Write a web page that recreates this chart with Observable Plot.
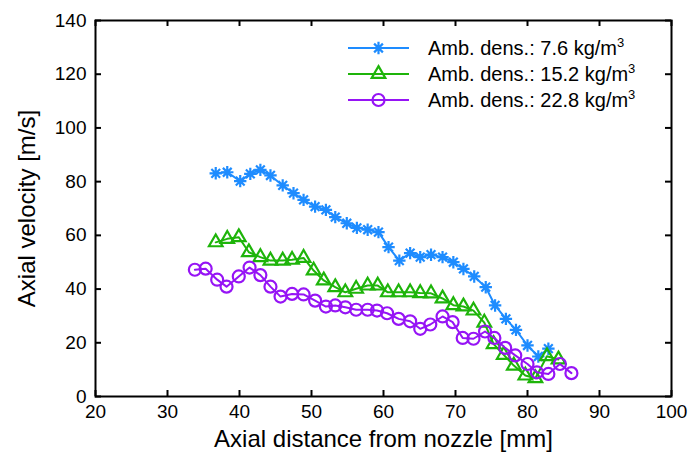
<!DOCTYPE html>
<html><head><meta charset="utf-8">
<script src="https://cdn.jsdelivr.net/npm/d3@7"></script>
<script src="https://cdn.jsdelivr.net/npm/@observablehq/plot@0.6"></script>
<style>body{margin:0;background:#fff} #chart{width:692px;height:461px}</style>
</head><body><div id="chart"></div>
<script>
const seriesNames = ["Amb. dens.: 7.6 kg/m", "Amb. dens.: 15.2 kg/m", "Amb. dens.: 22.8 kg/m"];
const seriesColors = ["#1e8cff", "#1eb40a", "#9614f5"];
const xTicks = [20, 30, 40, 50, 60, 70, 80, 90, 100];
const yTicks = [0, 20, 40, 60, 80, 100, 120, 140];
const xTitle = "Axial distance from nozzle [mm]";
const yTitle = "Axial velocity [m/s]";

const blueX = [36.7, 38.3, 40.1, 41.5, 42.9, 44.3, 46.0, 47.5, 48.9, 50.5, 52.0, 53.3, 54.9, 56.3, 57.8, 59.3, 60.7, 62.2, 63.7, 65.1, 66.6, 68.2, 69.7, 71.1, 72.6, 74.2, 75.5, 77.0, 78.4, 80.0, 81.5, 82.9];
const blueV = [83.1, 83.5, 80.2, 82.9, 84.4, 82.3, 78.6, 75.7, 73.2, 70.7, 69.5, 66.8, 64.5, 62.8, 62.1, 61.2, 55.6, 50.6, 53.4, 51.9, 52.8, 51.9, 50.0, 47.5, 44.7, 40.7, 33.9, 28.9, 24.8, 19.0, 14.9, 17.8];

const greenX = [36.7, 38.3, 39.9, 41.3, 42.9, 44.3, 46.0, 47.3, 48.9, 50.3, 51.7, 53.3, 54.7, 56.2, 57.8, 59.2, 60.6, 62.1, 63.7, 65.1, 66.6, 68.2, 69.7, 71.1, 72.5, 74.0, 75.3, 76.7, 78.1, 79.7, 81.1, 82.7, 84.3];
const greenV = [57.4, 58.7, 59.3, 53.7, 51.9, 50.6, 50.6, 50.9, 51.6, 46.9, 43.2, 40.7, 38.8, 40.1, 41.3, 41.3, 38.8, 38.8, 38.8, 38.5, 38.4, 36.5, 34.0, 33.5, 32.0, 27.5, 19.5, 15.5, 11.5, 7.8, 6.8, 15.0, 13.8];

const purpleX = [33.8, 35.3, 36.9, 38.2, 39.9, 41.4, 42.9, 44.3, 45.7, 47.3, 48.9, 50.5, 52.0, 53.3, 54.7, 56.2, 57.8, 59.1, 60.5, 62.1, 63.7, 65.1, 66.5, 68.2, 69.6, 71.0, 72.5, 74.1, 75.4, 76.9, 78.3, 80.0, 81.3, 82.9, 84.5, 86.1];
const purpleV = [47.2, 47.6, 43.5, 40.9, 44.7, 48.0, 45.2, 40.9, 37.2, 38.2, 38.0, 35.7, 33.5, 33.9, 33.2, 32.3, 32.3, 32.0, 31.0, 28.9, 28.0, 25.2, 26.8, 29.8, 27.7, 21.8, 21.5, 24.2, 21.8, 18.1, 15.3, 12.1, 9.0, 8.4, 12.1, 8.7];

const xs = [blueX, greenX, purpleX];
const vs = [blueV, greenV, purpleV];
const rows = [];
seriesNames.forEach((s, i) => xs[i].forEach((x, j) => rows.push({series: s, x, v: vs[i][j]})));

// 8-ray asterisk like MATLAB "*"
const star8 = {draw(ctx, size) {
  const r = Math.sqrt(size / Math.PI);
  for (let k = 0; k < 4; k++) {
    const a = k * Math.PI / 4, c = Math.cos(a) * r, s = Math.sin(a) * r;
    ctx.moveTo(-c, -s); ctx.lineTo(c, s);
  }
}};
const symbols = [star8, d3.symbolTriangle2, d3.symbolCircle];
const radii = [6.2, 6.5, 6];

const marks = [];
seriesNames.forEach((s, i) => {
  const d = rows.filter(r => r.series === s);
  marks.push(Plot.line(d, {x: "x", y: "v", stroke: seriesColors[i], strokeWidth: 2}));
  marks.push(Plot.dot(d, {x: "x", y: "v", stroke: seriesColors[i], fill: "none", symbol: () => symbols[i], r: radii[i], strokeWidth: 2.2}));
});

const W = 692, H = 461, ML = 95, MR = 21, MT = 20, MB = 65;
const tickLen = 6;
const plot = Plot.plot({
  width: W, height: H,
  marginLeft: ML, marginRight: MR, marginTop: MT, marginBottom: MB,
  style: {fontFamily: "'Liberation Sans', Arial, sans-serif", fontSize: "19px", color: "black", background: "white", overflow: "visible"},
  x: {domain: [20, 100]},
  y: {domain: [0, 140]},
  symbol: {type: "identity"},
  marks: [
    Plot.axisX(xTicks, {anchor: "bottom", tickSize: 0, tickPadding: 8, label: null, fontSize: 19}),
    Plot.axisY(yTicks, {anchor: "left", tickSize: 0, tickPadding: 9, label: null, fontSize: 19}),
    // inward ticks on all four sides
    Plot.ruleX(xTicks, {stroke: "black", strokeWidth: 2, insetTop: H - MT - MB - tickLen}),
    Plot.ruleX(xTicks, {stroke: "black", strokeWidth: 2, insetBottom: H - MT - MB - tickLen}),
    Plot.ruleY(yTicks, {stroke: "black", strokeWidth: 2, insetRight: W - ML - MR - tickLen}),
    Plot.ruleY(yTicks, {stroke: "black", strokeWidth: 2, insetLeft: W - ML - MR - tickLen}),
    Plot.frame({stroke: "black", strokeWidth: 2}),
    Plot.text([xTitle], {frameAnchor: "bottom", dy: 50, fontSize: 24, textAnchor: "middle"}),
    Plot.text([yTitle], {frameAnchor: "left", dx: -68, rotate: -90, fontSize: 24, textAnchor: "middle"}),
    ...marks
  ]
});
document.getElementById("chart").appendChild(plot);

// legend
const svg = d3.select(plot);
const lg = svg.append("g").attr("font-family", "'Liberation Sans', Arial, sans-serif").attr("font-size", 20).attr("text-anchor", "start");
const legendY = [48, 74, 100];
seriesNames.forEach((s, i) => {
  const g = lg.append("g").attr("transform", `translate(0,${legendY[i]})`);
  g.append("line").attr("x1", 348).attr("x2", 409).attr("stroke", seriesColors[i]).attr("stroke-width", 2);
  g.append("path").attr("transform", "translate(378.5,0)")
    .attr("d", d3.symbol(symbols[i], Math.PI * radii[i] * radii[i])())
    .attr("fill", "none").attr("stroke", seriesColors[i]).attr("stroke-width", 2.2);
  const t = g.append("text").attr("x", 428).attr("y", 7).attr("fill", "black").attr("text-anchor", "start").text(s);
  t.append("tspan").attr("dy", -8).attr("font-size", 13).text("3");
});
</script></body></html>
